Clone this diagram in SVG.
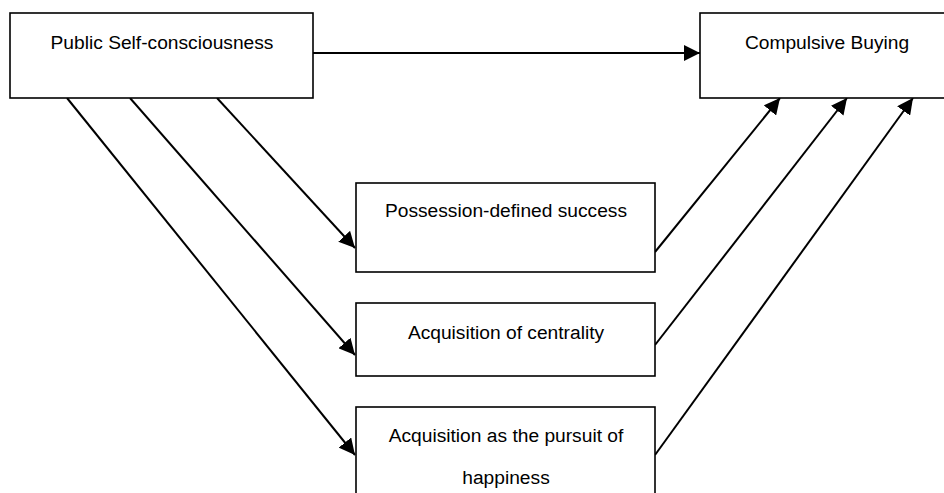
<svg xmlns="http://www.w3.org/2000/svg" width="944" height="493" viewBox="0 0 944 493">
  <defs>
    <style>
      .box { fill: #ffffff; stroke: #000000; stroke-width: 1.6; }
      .label { font-family: "Liberation Sans", Arial, sans-serif; font-size: 19.2px; fill: #000000; text-anchor: middle; }
      .link { fill: none; stroke: #000000; stroke-width: 2; marker-end: url(#arrow); }
    </style>
    <marker id="arrow" markerUnits="userSpaceOnUse" markerWidth="18" markerHeight="16" refX="16" refY="8" orient="auto">
      <path d="M0,0 L16,8 L0,16 Z" fill="#000000"/>
    </marker>
  </defs>

  <rect width="944" height="493" fill="#ffffff"/>

  <!-- connectors -->
  <g id="connectors">
    <line class="link" x1="313" y1="53" x2="700" y2="53"/>
    <line class="link" x1="217" y1="98" x2="355" y2="248"/>
    <line class="link" x1="130" y1="98" x2="355" y2="355"/>
    <line class="link" x1="67" y1="98" x2="355" y2="455"/>
    <line class="link" x1="655" y1="252" x2="780" y2="98"/>
    <line class="link" x1="655" y1="345" x2="847" y2="98"/>
    <line class="link" x1="655" y1="455" x2="913" y2="98"/>
  </g>

  <!-- nodes -->
  <g id="node-public-self-consciousness">
    <rect class="box" x="10" y="13" width="303" height="85"/>
    <text class="label" x="162" y="49">Public Self-consciousness</text>
  </g>

  <g id="node-compulsive-buying">
    <rect class="box" x="700" y="13" width="260" height="85"/>
    <text class="label" x="827" y="49">Compulsive Buying</text>
  </g>

  <g id="node-possession-defined-success">
    <rect class="box" x="356" y="183" width="299" height="89"/>
    <text class="label" x="506" y="217">Possession-defined success</text>
  </g>

  <g id="node-acquisition-centrality">
    <rect class="box" x="356" y="303" width="299" height="73"/>
    <text class="label" x="506" y="339">Acquisition of centrality</text>
  </g>

  <g id="node-acquisition-happiness">
    <rect class="box" x="356" y="407" width="299" height="100"/>
    <text class="label" x="506" y="442">Acquisition as the pursuit of</text>
    <text class="label" x="506" y="484">happiness</text>
  </g>
</svg>
